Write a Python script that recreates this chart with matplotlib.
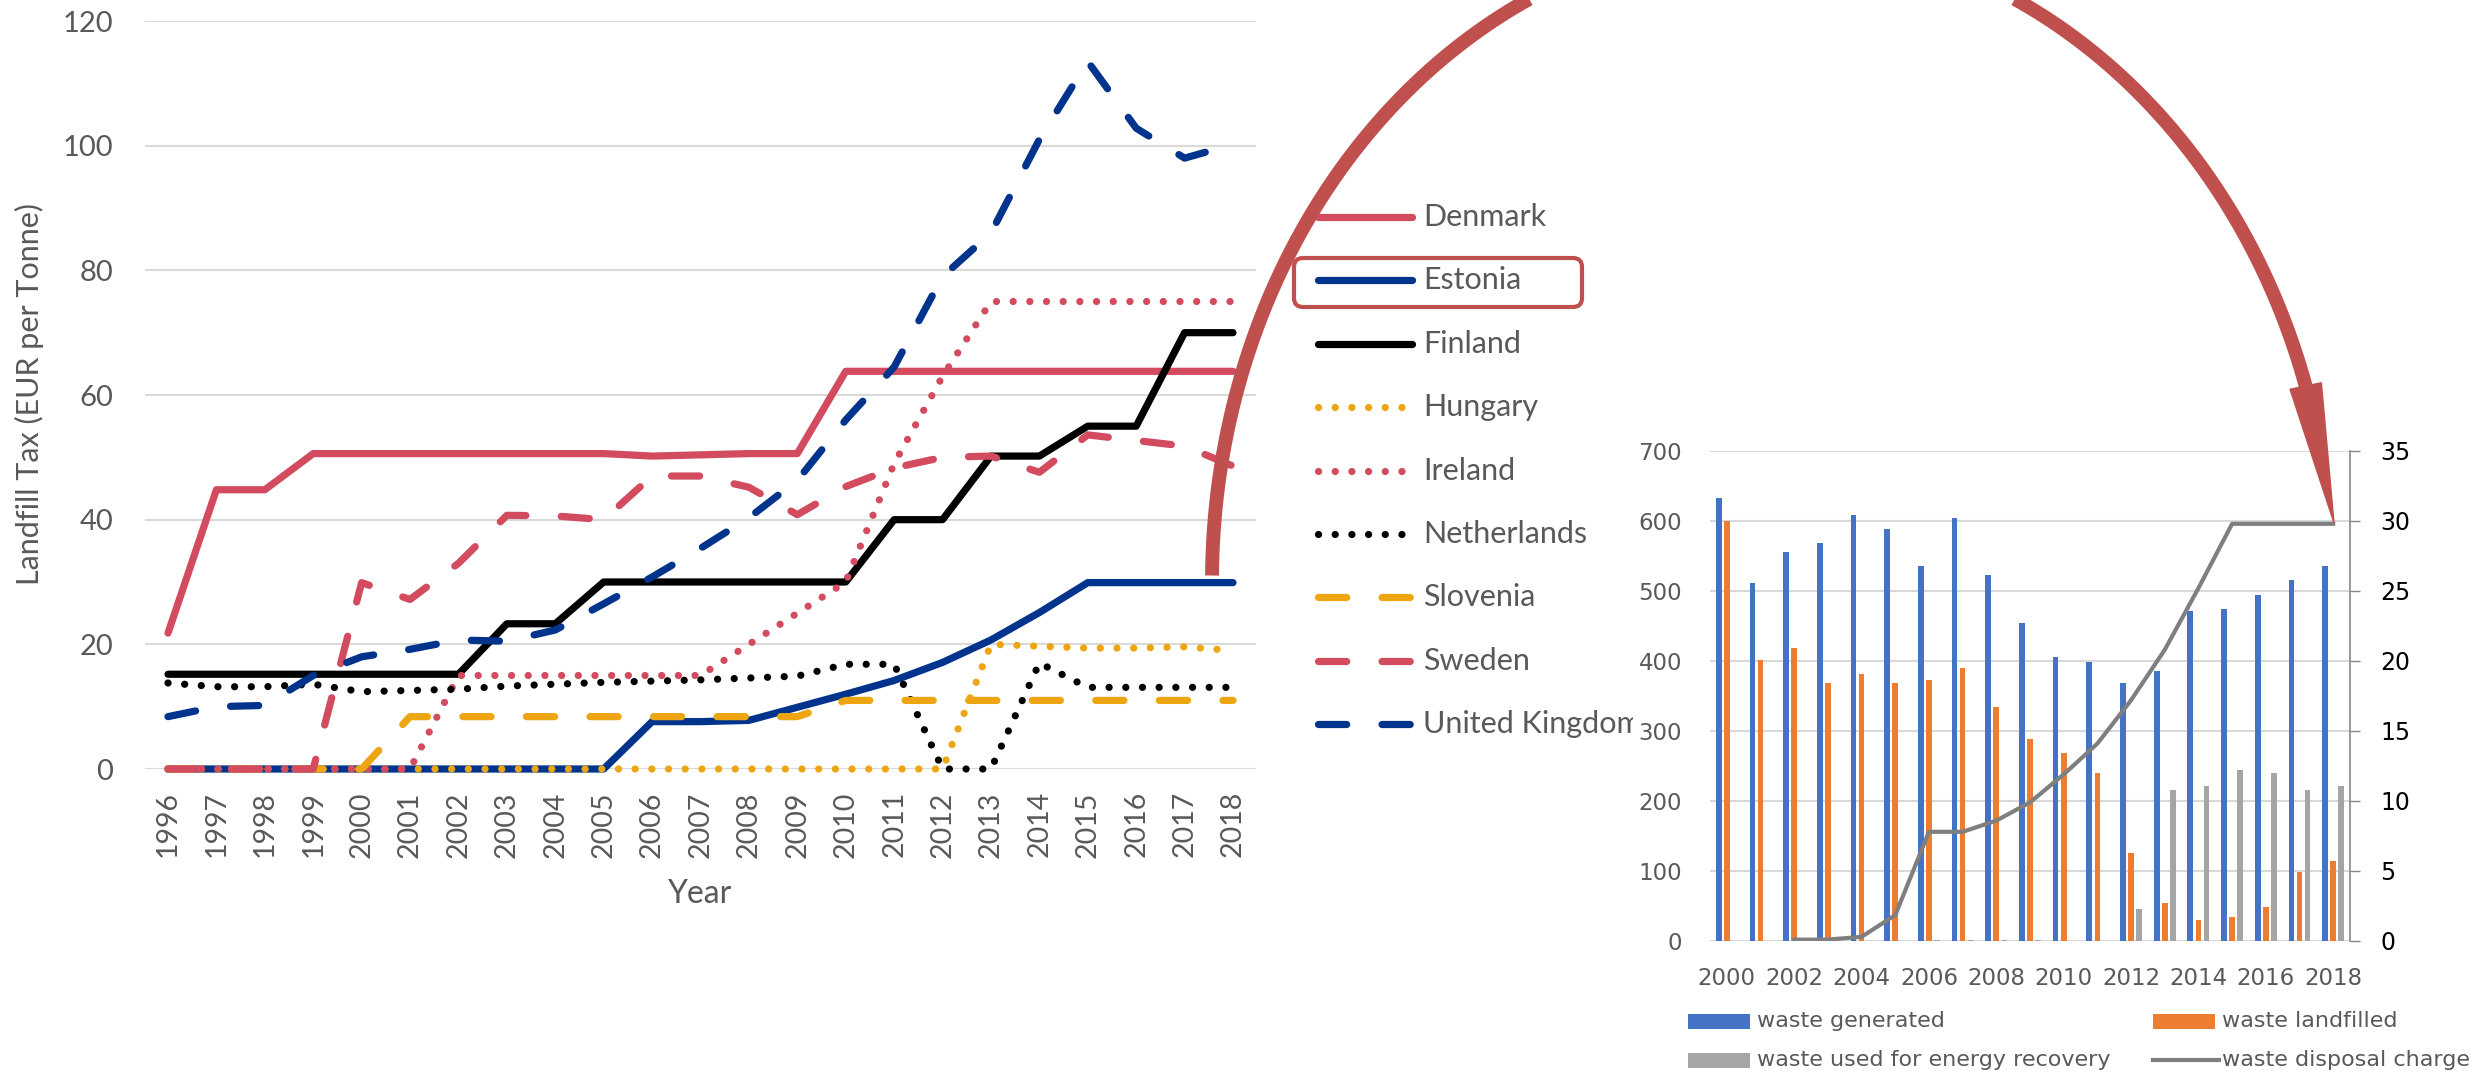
import numpy as np
import matplotlib
matplotlib.use('Agg')
import matplotlib.pyplot as plt
from matplotlib.patches import FancyBboxPatch, Rectangle, Polygon

# ---------------- data: landfill tax (EUR per tonne) ----------------
years = list(range(1996, 2019))
countries = ['Denmark', 'Estonia', 'Finland', 'Hungary', 'Ireland',
             'Netherlands', 'Slovenia', 'Sweden', 'United Kingdom']

denmark = [21.8, 44.8, 44.8, 50.6, 50.6, 50.6, 50.6, 50.6, 50.6, 50.6, 50.2, 50.4,
           50.6, 50.6, 63.8, 63.8, 63.8, 63.8, 63.8, 63.8, 63.8, 63.8, 63.8]
estonia = [0, 0, 0, 0, 0, 0, 0, 0, 0, 0, 7.6, 7.6, 7.8, 9.9, 12.0, 14.2, 17.1,
           20.7, 25.1, 29.9, 29.9, 29.9, 29.9]
finland = [15.2, 15.2, 15.2, 15.2, 15.2, 15.2, 15.2, 23.3, 23.3, 30, 30, 30, 30,
           30, 30, 40, 40, 50.2, 50.2, 55, 55, 70, 70]
hungary = [0] * 17 + [20.0, 19.7, 19.4, 19.4, 19.6, 19.0]
ireland = [0, 0, 0, 0, 0, 0, 15, 15, 15, 15, 15, 15, 20, 25, 30, 49, 63,
           75, 75, 75, 75, 75, 75]
netherlands = [13.8, 13.2, 13.2, 13.6, 12.4, 12.6, 12.8, 13.3, 13.6, 13.9, 14.1,
               14.3, 14.6, 14.9, 16.8, 16.8, 0, 0, 17.0, 13.1, 13.1, 13.1, 13.1]
slovenia = [0, 0, 0, 0, 0] + [8.4] * 9 + [11.0] * 9
sweden = [0, 0, 0, 0, 29.9, 27.2, 33.0, 40.7, 40.6, 40.0, 47.0, 47.0, 45.2, 40.8,
          45.3, 48.3, 50.0, 50.2, 47.6, 53.6, 52.7, 51.8, 48.6]
uk = [8.4, 10.0, 10.2, 15.0, 18.0, 19.2, 20.7, 20.5, 22.3, 26.5, 30.8, 35.4, 40.3,
      46.3, 56.0, 64.5, 79.0, 86.0, 101.0, 113.5, 102.8, 98.0, 100.2]
tax_series = [denmark, estonia, finland, hungary, ireland,
              netherlands, slovenia, sweden, uk]

# ---------------- data: Estonia waste (inset) ----------------
w_years = list(range(2000, 2019))
generated = [633, 511, 556, 568, 608, 588, 536, 604, 523, 455, 406, 398, 369,
             386, 471, 475, 495, 516, 536]
landfilled = [600, 402, 419, 369, 382, 369, 373, 390, 334, 289, 269, 240, 126,
              54, 30, 34, 49, 99, 115]
energy = [0, 0, 0, 0, 0, 0, 1, 1, 1, 1, 0, 0, 46, 216, 221, 245, 240, 216, 221]
charge = [np.nan, np.nan, 0.1, 0.1, 0.3, 1.85, 7.8, 7.8, 8.6, 9.9, 11.9, 14.1,
          17.2, 20.8, 25.2, 29.8, 29.8, 29.8, 29.8]

# ---------------- styles ----------------
RED = '#d24b5f'
NAVY = '#00348c'
GOLD = '#eea512'
ARROW = '#c0504d'
TXT = '#595959'
LW = 5.2
DOT = (0, (0.01, 2.3))
DASH = (0, (3.9, 4.9))
styles = [(RED, '-'), (NAVY, '-'), ('black', '-'), (GOLD, DOT), (RED, DOT),
          ('black', DOT), (GOLD, DASH), (RED, DASH), (NAVY, DASH)]

plt.rcParams['font.family'] = ['Lato', 'DejaVu Sans']

W, H = 2487, 1074
fig = plt.figure(figsize=(W / 100, H / 100), dpi=100)
fig.patch.set_facecolor('white')


def frac(x0, y0, x1, y1):
    return [x0 / W, 1 - y1 / H, (x1 - x0) / W, (y1 - y0) / H]


bg = fig.add_axes([0, 0, 1, 1], zorder=0)
bg.set_xlim(0, W)
bg.set_ylim(H, 0)
bg.axis('off')

# ---------------- left chart ----------------
ax = fig.add_axes(frac(145, 21, 1256, 769), zorder=1)
xi = np.arange(len(years))
for vals, (col, ls) in zip(tax_series, styles):
    ax.plot(xi, vals, color=col, linestyle=ls, lw=LW, solid_capstyle='round',
            dash_capstyle='round', solid_joinstyle='round', clip_on=False)
ax.set_xlim(-0.475, len(years) - 1 + 0.475)
ax.set_ylim(0, 120)
ax.set_yticks(range(0, 121, 20))
ax.set_xticks(xi)
ax.set_xticklabels([str(y) for y in years], rotation=90, fontsize=20.5, color=TXT)
ax.tick_params(axis='y', length=0, pad=23, labelsize=21, labelcolor=TXT)
ax.tick_params(axis='x', length=0, pad=16)
ax.yaxis.grid(True, color='#d9d9d9', lw=1.5)
ax.set_axisbelow(True)
for s in ax.spines.values():
    s.set_visible(False)
ax.set_ylabel('Landfill Tax (EUR per Tonne)', fontsize=22, color=TXT)
ax.yaxis.label.set_va('center')
ax.yaxis.set_label_coords(-0.104, 0.501)
ax.set_xlabel('Year', fontsize=23, color=TXT)
ax.xaxis.label.set_va('center')
ax.xaxis.set_label_coords(0.4987, -0.167)

# legend of the left chart
leg_y0, leg_dy = 217, 63.4
for i, (name, (col, ls)) in enumerate(zip(countries, styles)):
    yy = leg_y0 + i * leg_dy
    bg.plot([1318, 1412], [yy, yy], color=col, linestyle=ls, lw=LW,
            solid_capstyle='round', dash_capstyle='round')
    bg.text(1423, yy, name, fontsize=22, color=TXT, va='center', ha='left')

# white sheet of the pasted inset
bg.add_patch(Rectangle((1633, 440), W - 1633, H - 440, fc='white', ec='none',
                       zorder=10))

# ---------------- inset chart ----------------
axr = fig.add_axes(frac(1710, 451, 2350, 941), zorder=2)
wx = np.arange(len(w_years))
bw = 0.17
axr.bar(wx - 0.24, generated, width=bw, color='#4472c4')
axr.bar(wx, landfilled, width=bw, color='#ed7d31')
axr.bar(wx + 0.24, energy, width=bw, color='#a5a5a5')
axr.set_xlim(-0.5, len(w_years) - 0.5)
axr.set_ylim(0, 700)
axr.set_yticks(range(0, 701, 100))
axr.set_xticks(wx[::2])
axr.set_xticklabels([str(y) for y in w_years[::2]], fontfamily='DejaVu Sans',
                    fontsize=16.5, color=TXT)
axr.set_yticklabels([str(v) for v in range(0, 701, 100)],
                    fontfamily='DejaVu Sans', fontsize=16.5, color=TXT)
axr.tick_params(axis='both', length=0)
axr.tick_params(axis='y', pad=20)
axr.tick_params(axis='x', pad=19)
axr.yaxis.grid(True, color='#d9d9d9', lw=1.5)
axr.set_axisbelow(True)
for s in axr.spines.values():
    s.set_visible(False)

axr2 = axr.twinx()
axr2.set_zorder(3)
axr2.plot(wx, charge, color='#7f7f7f', lw=3)
axr2.set_ylim(0, 35)
axr2.set_yticks(range(0, 36, 5))
axr2.set_yticklabels([str(v) for v in range(0, 36, 5)],
                     fontfamily='DejaVu Sans', fontsize=17, color='black')
axr2.tick_params(axis='y', direction='out', length=7, width=1, color='#868686',
                 pad=15)
for k, s in axr2.spines.items():
    s.set_visible(k == 'right')
axr2.spines['right'].set_color('#868686')
axr2.spines['right'].set_linewidth(1.2)

# inset legend
leg_items = [('bar', '#4472c4', 'waste generated', 1688, 1021),
             ('bar', '#ed7d31', 'waste landfilled', 2153, 1021),
             ('bar', '#a5a5a5', 'waste used for energy recovery', 1688, 1060),
             ('line', '#7f7f7f', 'waste disposal charge', 2153, 1060)]
for kind, col, label, lx, ly in leg_items:
    if kind == 'bar':
        bg.add_patch(Rectangle((lx, ly - 7.5), 62, 15, fc=col, ec='none',
                               zorder=11))
    else:
        bg.plot([lx, lx + 66], [ly, ly], color=col, lw=3, zorder=11)
    bg.text(lx + 69, ly, label, fontfamily='DejaVu Sans', fontsize=16,
            color=TXT, va='center', ha='left', zorder=12)

# ---------------- arrow and highlight box ----------------
top = fig.add_axes([0, 0, 1, 1], zorder=5)
top.set_xlim(0, W)
top.set_ylim(H, 0)
top.axis('off')

cx, cy, ea, eb = 1772, 582, 560, 647
t_end = np.arcsin((cy - 386) / eb)
t = np.linspace(np.pi - 0.01, t_end, 300)
arc_x = cx + ea * np.cos(t)
arc_y = cy - eb * np.sin(t)
top.plot(arc_x, arc_y, color=ARROW, lw=10, solid_capstyle='butt', clip_on=False)

base = np.array([arc_x[-1], arc_y[-1]])
tip = np.array([2334, 523])
d = tip - base
perp = np.array([d[1], -d[0]]) / np.hypot(*d)
head = [tip, base + 16 * perp, base - 16 * perp]
top.add_patch(Polygon(head, closed=True, fc=ARROW, ec=ARROW, lw=1))

top.add_patch(FancyBboxPatch((1294, 258), 288, 49,
                             boxstyle='round,pad=0,rounding_size=9',
                             fc='none', ec=ARROW, lw=3))

fig.savefig('out.png', dpi=100, facecolor='white')
